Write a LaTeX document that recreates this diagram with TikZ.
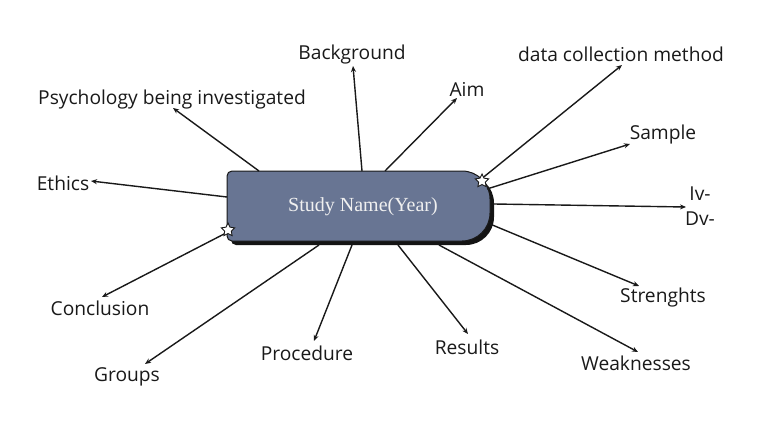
\documentclass[tikz,border=0pt]{standalone}
\usepackage{fontspec}
\setmainfont{Open Sans}
\newfontfamily\titlefont{Liberation Serif}
\usetikzlibrary{arrows.meta,shapes.geometric}
\definecolor{boxblue}{RGB}{104,117,147}
\definecolor{ink}{RGB}{25,25,25}
\definecolor{shadowcol}{RGB}{20,20,20}
\begin{document}
\begin{tikzpicture}[x=1pt,y=1pt,
  lbl/.style={font=\fontsize{19.2}{21}\selectfont, text=ink, inner sep=0pt},
  conn/.style={-{Stealth[length=6pt,width=5pt]}, line width=1.4pt, draw=ink},
  starmark/.style={star, star points=5, star point ratio=2.0, minimum size=14pt, inner sep=0pt, draw=ink, fill=white, line width=0.9pt}]
\useasboundingbox (0,0) rectangle (768,-431);
% shadow
\fill[fill=shadowcol] (236,-175) -- (466,-175) arc[start angle=90,end angle=0,radius=28] -- (494,-217) arc[start angle=0,end angle=-90,radius=28] -- (236,-245) arc[start angle=270,end angle=180,radius=5] -- (231,-180) arc[start angle=180,end angle=90,radius=5] -- cycle;
% box
\draw[fill=boxblue, draw=ink, line width=1pt] (232,-171) -- (462,-171) arc[start angle=90,end angle=0,radius=28] -- (490,-213) arc[start angle=0,end angle=-90,radius=28] -- (232,-241) arc[start angle=270,end angle=180,radius=5] -- (227,-176) arc[start angle=180,end angle=90,radius=5] -- cycle;
\node[text=white!94!black, font=\titlefont\fontsize{20}{22}\selectfont, inner sep=0pt] (box) at (363,-207) {Study Name(Year)};
% labels
\node[lbl] (bg) at (352,-55) {Background};
\node[lbl] (dcm) at (621,-54) {data collection method};
\node[lbl] (psy) at (172,-100) {Psychology being investigated};
\node[lbl] (aim) at (467,-89) {Aim};
\node[lbl] (smp) at (663,-135) {Sample};
\node[lbl] (eth) at (63,-183) {Ethics};
\node[lbl] (iv) at (700,-194) {Iv-};
\node[lbl] (dv) at (700,-219) {Dv-};
\node[lbl] (con) at (100,-308) {Conclusion};
\node[lbl] (str) at (663,-298) {Strenghts};
\node[lbl] (pro) at (307,-353) {Procedure};
\node[lbl] (res) at (467,-347) {Results};
\node[lbl] (grp) at (127,-377) {Groups};
\node[lbl] (wk) at (636,-363) {Weaknesses};
% connector ends
\coordinate (sPsy) at (259,-171); \coordinate (tPsy) at (173,-108);
\coordinate (sBg) at (362,-171); \coordinate (tBg) at (353,-66);
\coordinate (sAim) at (385,-171); \coordinate (tAim) at (457,-98);
\coordinate (sDcm) at (480,-180); \coordinate (tDcm) at (622,-65);
\coordinate (sSmp) at (487,-189); \coordinate (tSmp) at (630,-144);
\coordinate (sIv) at (494,-204); \coordinate (tIv) at (686,-207);
\coordinate (sStr) at (490,-224); \coordinate (tStr) at (639,-286);
\coordinate (sWk) at (439,-245); \coordinate (tWk) at (638,-352);
\coordinate (sRes) at (398,-245); \coordinate (tRes) at (468,-334);
\coordinate (sPro) at (352,-245); \coordinate (tPro) at (314,-341);
\coordinate (sGrp) at (319,-245); \coordinate (tGrp) at (145,-364);
\coordinate (sCon) at (226,-233); \coordinate (tCon) at (102,-297);
\coordinate (sEth) at (227,-197); \coordinate (tEth) at (91,-181);
\foreach \n in {Psy,Bg,Aim,Dcm,Smp,Iv,Str,Wk,Res,Pro,Grp,Con,Eth}
  \draw[conn] (s\n) -- (t\n);
% stars
\node[starmark] (st1) at (482,-181) {};
\node[starmark] (st2) at (228,-230) {};
\end{tikzpicture}
\end{document}
